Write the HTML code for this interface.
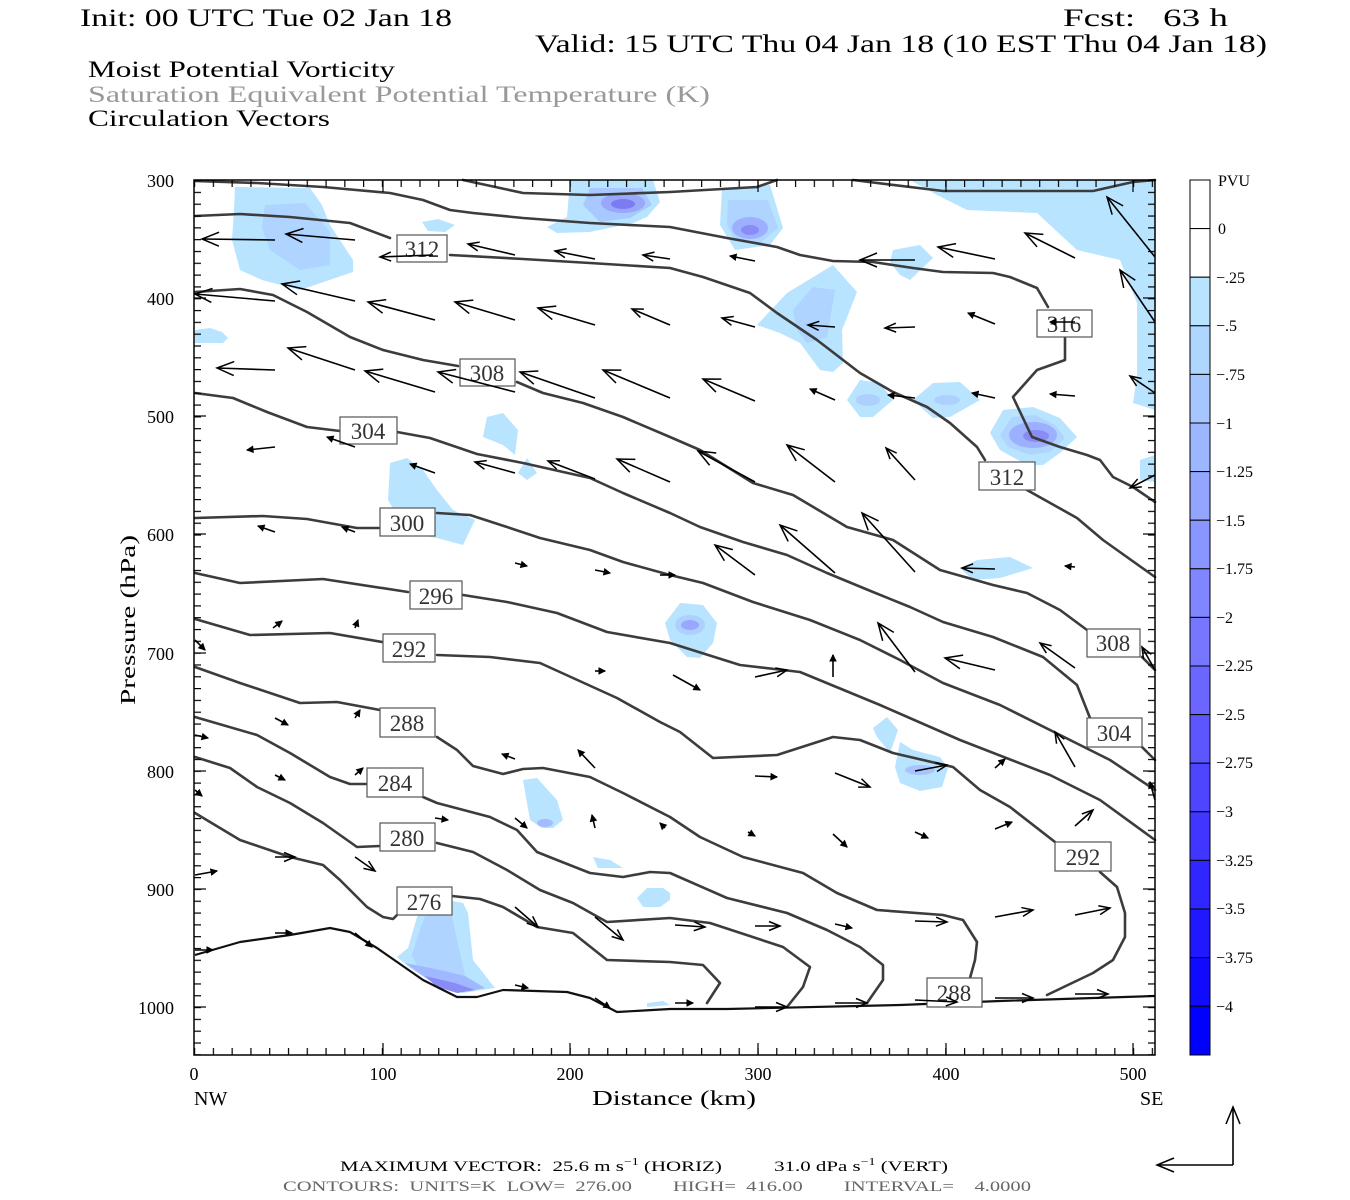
<!DOCTYPE html>
<html><head><meta charset="utf-8"><style>html,body{margin:0;padding:0;background:#fff}svg{display:block}text{font-family:"Liberation Serif",serif}</style></head><body>
<svg width="1350" height="1200" viewBox="0 0 1350 1200" xmlns="http://www.w3.org/2000/svg">
<defs>
<pattern id="px" x="194" y="0" width="18.78" height="1200" patternUnits="userSpaceOnUse"><rect x="0" y="0" width="1.2" height="1200" fill="#000"/></pattern>
<pattern id="py" x="0" y="180" width="1350" height="11.814" patternUnits="userSpaceOnUse"><rect x="0" y="0" width="1350" height="1.2" fill="#000"/></pattern>
<marker id="hL" markerUnits="userSpaceOnUse" viewBox="-20 -10 22 20" markerWidth="22" markerHeight="20" refX="0" refY="0" orient="auto"><path d="M-17,-7 L0,0 L-17,7" fill="none" stroke="#000" stroke-width="1.5"/></marker>
<marker id="hM" markerUnits="userSpaceOnUse" viewBox="-14 -7 16 14" markerWidth="16" markerHeight="14" refX="0" refY="0" orient="auto"><path d="M-11,-4.5 L0,0 L-11,4.5" fill="none" stroke="#000" stroke-width="1.5"/></marker>
<marker id="hS" markerUnits="userSpaceOnUse" viewBox="-8 -4 10 8" markerWidth="10" markerHeight="8" refX="0" refY="0" orient="auto"><path d="M-6,-3 L0,0 L-6,3 Z" fill="#000" stroke="#000" stroke-width="1"/></marker>
</defs>

<!-- titles -->
<text x="80" y="26" font-size="25" textLength="372" lengthAdjust="spacingAndGlyphs">Init: 00 UTC Tue 02 Jan 18</text>
<text x="1063" y="26" font-size="25" textLength="165" lengthAdjust="spacingAndGlyphs" xml:space="preserve">Fcst:   63 h</text>
<text x="535" y="52" font-size="25" textLength="732" lengthAdjust="spacingAndGlyphs">Valid: 15 UTC Thu 04 Jan 18 (10 EST Thu 04 Jan 18)</text>
<text x="88" y="77" font-size="23" textLength="307" lengthAdjust="spacingAndGlyphs">Moist Potential Vorticity</text>
<text x="88" y="102" font-size="23" fill="#999" textLength="622" lengthAdjust="spacingAndGlyphs">Saturation Equivalent Potential Temperature (K)</text>
<text x="88" y="126" font-size="23" textLength="242" lengthAdjust="spacingAndGlyphs">Circulation Vectors</text>

<!-- PV shading -->
<g stroke="none">
<polygon fill="#b8e4ff" points="235,187 310,188 322,205 330,225 353,260 353,272 300,290 262,280 240,270 232,240 234,210"/>
<polygon fill="#aed4ff" points="265,205 305,203 330,232 330,265 300,270 270,250 262,228"/>
<polygon fill="#b8e4ff" points="570,180 653,180 660,202 647,217 633,223 590,232 557,233 547,227 567,217"/>
<polygon fill="#a8c8ff" points="590,188 642,188 652,205 630,218 600,222 583,205"/>
<ellipse cx="623" cy="203" rx="22" ry="10" fill="#9aa8fc"/>
<ellipse cx="623" cy="204" rx="12" ry="5" fill="#7c7cf2"/>
<polygon fill="#b8e4ff" points="422,222 438,219 455,225 445,232 428,231"/>
<polygon fill="#b8e4ff" points="722,188 770,185 783,228 770,245 735,250 720,225"/>
<polygon fill="#aed4ff" points="728,200 768,200 778,228 760,243 735,240 727,225"/>
<ellipse cx="750" cy="228" rx="18" ry="11" fill="#9cb0ff"/>
<ellipse cx="750" cy="230" rx="9" ry="5" fill="#8a8cf6"/>
<polygon fill="#b8e4ff" points="910,180 1155,180 1155,410 1133,403 1137,377 1137,303 1120,260 1077,250 1037,213 967,210 937,195"/>
<polygon fill="#b8e4ff" points="1140,460 1155,455 1155,482 1140,480"/>
<polygon fill="#b8e4ff" points="757,325 787,293 833,265 857,292 842,330 843,363 833,372 820,370 800,343 780,333"/>
<polygon fill="#aed4ff" points="793,310 813,287 835,290 827,337 807,343 797,330"/>
<polygon fill="#b8e4ff" points="893,250 920,245 933,258 910,280 900,275 890,262"/>
<polygon fill="#b8e4ff" points="847,400 860,380 880,383 893,400 873,417 860,417"/>
<ellipse cx="868" cy="400" rx="12" ry="6" fill="#aed0ff"/>
<polygon fill="#b8e4ff" points="913,400 933,383 960,382 980,400 950,417 933,418"/>
<ellipse cx="947" cy="400" rx="13" ry="5" fill="#aed0ff"/>
<polygon fill="#b8e4ff" points="990,433 1003,410 1033,407 1060,418 1077,437 1060,453 1043,465 1027,465 1000,450"/>
<polygon fill="#aed4ff" points="1000,435 1012,417 1035,415 1055,425 1065,438 1050,452 1030,455 1008,447"/>
<ellipse cx="1033" cy="435" rx="24" ry="13" fill="#9cb0ff"/>
<ellipse cx="1036" cy="436" rx="13" ry="6" fill="#8a8cf6"/>
<polygon fill="#b8e4ff" points="960,568 977,560 1010,557 1033,568 1000,578 973,580"/>
<polygon fill="#b8e4ff" points="665,623 680,603 703,605 717,623 713,643 700,658 687,657 670,640"/>
<ellipse cx="690" cy="625" rx="15" ry="10" fill="#aed0ff"/>
<ellipse cx="690" cy="625" rx="9" ry="5" fill="#98a8fc"/>
<polygon fill="#b8e4ff" points="195,330 210,328 222,332 228,338 223,343 195,343"/>
<polygon fill="#b8e4ff" points="487,417 503,413 518,430 515,455 503,445 483,437"/>
<polygon fill="#b8e4ff" points="527,458 537,473 527,480 518,473"/>
<polygon fill="#b8e4ff" points="390,463 407,458 423,470 437,490 453,510 475,520 463,545 437,538 407,533 388,500"/>
<polygon fill="#b8e4ff" points="873,728 887,717 898,730 890,753 877,737"/>
<polygon fill="#b8e4ff" points="900,742 913,750 940,757 948,768 942,787 920,791 900,783 895,767"/>
<ellipse cx="920" cy="770" rx="15" ry="5" fill="#a8c4ff"/>
<polygon fill="#b8e4ff" points="523,780 537,778 557,800 563,820 553,828 542,828 530,820"/>
<ellipse cx="545" cy="823" rx="8" ry="4" fill="#a2bcff"/>
<polygon fill="#b8e4ff" points="593,857 610,860 623,868 598,868"/>
<polygon fill="#b8e4ff" points="637,898 647,888 663,888 670,893 670,900 660,907 643,907"/>
<polygon fill="#b8e4ff" points="397,957 408,948 417,917 430,902 447,900 463,903 468,913 473,960 495,988 463,993 437,985 410,968"/>
<polygon fill="#aed4ff" points="412,955 420,930 430,903 450,907 457,940 465,975 445,985 420,972"/>
<polygon fill="#a0b8ff" points="405,963 440,970 465,976 485,988 458,993 437,986"/>
<polygon fill="#8a8cf6" points="425,976 455,983 475,990 457,993 437,987"/>
<polygon fill="#b8e4ff" points="647,1003 663,1001 670,1005 647,1007"/>
</g>

<!-- contours -->
<g fill="none" stroke="#3c3c3c" stroke-width="2.6" stroke-linejoin="round" stroke-linecap="round">
<polyline points="463,180 523,193 590,195 670,192 757,187 777,180"/>
<polyline points="853,180 943,191 1093,191 1133,182 1155,180"/>
<polyline points="195,181 257,183 323,187 390,193 423,200 450,210 473,213 523,218 590,223 670,227 727,238 777,247 800,255 833,261 873,262 913,268 943,272 993,273 1010,277 1037,288 1048,307"/>
<polyline points="1065,338 1065,360 1037,370 1013,397 1032,437 1060,447 1087,455 1100,460 1113,477 1133,487 1155,502"/>
<polyline points="195,216 240,214 290,217 350,223 390,238"/>
<polyline points="450,255 523,259 590,263 670,268 703,277 750,293 777,313 817,340 860,373 893,392 927,407 950,423 977,447 985,460"/>
<polyline points="1027,490 1077,518 1103,540 1155,577"/>
<polyline points="195,292 240,289 273,295 307,312 350,337 383,350 423,360 458,366"/>
<polyline points="517,382 543,393 583,403 623,417 670,437 700,450 753,483 793,495 847,527 893,540 940,570 993,585 1027,593 1060,610 1087,630"/>
<polyline points="1142,657 1155,670"/>
<polyline points="195,393 233,398 267,412 307,427 340,431"/>
<polyline points="397,432 430,438 477,454 523,463 590,478 623,493 670,513 700,527 743,542 787,555 827,573 873,592 910,607 943,622 993,637 1043,657 1077,685 1090,718"/>
<polyline points="1142,747 1155,760"/>
<polyline points="195,518 263,516 307,519 357,528 380,528"/>
<polyline points="437,513 470,515 507,527 540,538 590,550 623,562 670,575 703,583 753,602 810,620 860,640 900,660 943,683 1000,705 1060,735 1110,760 1155,790"/>
<polyline points="195,573 240,583 323,579 408,592"/>
<polyline points="463,595 507,602 557,613 607,632 670,643 740,665 800,672 880,705 960,740 1050,775 1100,800 1155,840"/>
<polyline points="195,619 250,635 330,633 382,642"/>
<polyline points="437,655 490,657 540,663 573,678 617,698 660,722 680,732 713,758 777,755 833,737 860,740 893,753 953,767 980,790 1010,807 1055,842"/>
<polyline points="1100,872 1117,887 1125,913 1125,937 1113,960 1093,973 1047,995"/>
<polyline points="195,667 240,683 300,703 337,702 380,710"/>
<polyline points="437,737 457,750 473,766 503,774 523,769 543,768 590,777 623,793 670,817 700,837 743,857 803,873 837,893 877,910 943,915 963,920 977,942 975,960 970,978"/>
<polyline points="195,717 257,735 290,753 330,777 350,784 367,784"/>
<polyline points="423,797 437,803 490,817 517,830 537,852 557,860 590,873 623,877 650,872 670,873 727,898 787,913 827,930 860,947 883,965 883,980 867,1003"/>
<polyline points="195,757 230,768 257,787 290,803 323,823 357,847 380,846"/>
<polyline points="437,843 473,852 507,870 540,890 573,903 607,922 670,918 710,923 783,947 810,967 803,987 787,1007"/>
<polyline points="195,813 240,840 290,857 323,865 340,880 367,907 383,917 393,919 397,915"/>
<polyline points="452,896 480,899 503,907 537,927 573,933 607,960 670,962 703,965 720,983 707,1003"/>
</g>
<polyline fill="none" stroke="#111" stroke-width="2.2" stroke-linejoin="round" points="195,955 240,942 290,935 330,928 350,932 377,948 423,980 457,997 477,997 503,990 567,992 590,998 617,1012 670,1009 727,1009 900,1005 1000,1001 1155,996"/>

<!-- contour labels -->
<g fill="#fff" stroke="#555" stroke-width="1.2">
<rect x="397" y="235" width="50" height="27"/><rect x="460" y="359" width="55" height="27"/>
<rect x="340" y="417" width="57" height="27"/><rect x="380" y="508" width="55" height="28"/>
<rect x="410" y="581" width="52" height="28"/><rect x="383" y="634" width="52" height="28"/>
<rect x="380" y="708" width="55" height="29"/><rect x="367" y="768" width="56" height="29"/>
<rect x="380" y="823" width="55" height="28"/><rect x="397" y="887" width="55" height="28"/>
<rect x="1037" y="310" width="55" height="27"/><rect x="979" y="462" width="56" height="28"/>
<rect x="1087" y="629" width="53" height="28"/><rect x="1087" y="718" width="55" height="29"/>
<rect x="1055" y="842" width="56" height="29"/><rect x="927" y="978" width="55" height="29"/>
</g>
<g font-size="23" fill="#333" text-anchor="middle">
<text x="422" y="257">312</text><text x="487" y="381">308</text><text x="368" y="439">304</text>
<text x="407" y="531">300</text><text x="436" y="604">296</text><text x="409" y="657">292</text>
<text x="407" y="731">288</text><text x="395" y="791">284</text><text x="407" y="846">280</text>
<text x="424" y="910">276</text><text x="1064" y="332">316</text><text x="1007" y="485">312</text>
<text x="1113" y="651">308</text><text x="1114" y="741">304</text><text x="1083" y="865">292</text>
<text x="954" y="1001">288</text>
</g>

<!-- vectors -->
<g stroke="#000" stroke-width="1.6" fill="none">
<line x1="275" y1="240" x2="202" y2="239" marker-end="url(#hL)"/>
<line x1="355" y1="240" x2="286" y2="234" marker-end="url(#hL)"/>
<line x1="433" y1="255" x2="380" y2="257" marker-end="url(#hM)"/>
<line x1="515" y1="255" x2="468" y2="244" marker-end="url(#hM)"/>
<line x1="595" y1="259" x2="555" y2="251" marker-end="url(#hM)"/>
<line x1="670" y1="259" x2="643" y2="255" marker-end="url(#hM)"/>
<line x1="755" y1="261" x2="730" y2="256" marker-end="url(#hS)"/>
<line x1="915" y1="260" x2="860" y2="260" marker-end="url(#hL)"/>
<line x1="995" y1="259" x2="938" y2="247" marker-end="url(#hL)"/>
<line x1="1075" y1="258" x2="1025" y2="233" marker-end="url(#hL)"/>
<line x1="1155" y1="257" x2="1107" y2="197" marker-end="url(#hL)"/>
<line x1="275" y1="301" x2="195" y2="294" marker-end="url(#hL)"/>
<line x1="355" y1="301" x2="282" y2="284" marker-end="url(#hL)"/>
<line x1="435" y1="320" x2="368" y2="302" marker-end="url(#hL)"/>
<line x1="515" y1="320" x2="455" y2="302" marker-end="url(#hL)"/>
<line x1="595" y1="325" x2="538" y2="308" marker-end="url(#hL)"/>
<line x1="670" y1="325" x2="632" y2="309" marker-end="url(#hM)"/>
<line x1="755" y1="327" x2="722" y2="318" marker-end="url(#hM)"/>
<line x1="835" y1="327" x2="808" y2="325" marker-end="url(#hM)"/>
<line x1="915" y1="327" x2="885" y2="328" marker-end="url(#hM)"/>
<line x1="995" y1="324" x2="968" y2="313" marker-end="url(#hS)"/>
<line x1="1075" y1="322" x2="1050" y2="322" marker-end="url(#hS)"/>
<line x1="1155" y1="322" x2="1120" y2="270" marker-end="url(#hL)"/>
<line x1="275" y1="370" x2="217" y2="368" marker-end="url(#hL)"/>
<line x1="355" y1="370" x2="288" y2="348" marker-end="url(#hL)"/>
<line x1="435" y1="392" x2="365" y2="371" marker-end="url(#hL)"/>
<line x1="515" y1="392" x2="438" y2="372" marker-end="url(#hL)"/>
<line x1="595" y1="398" x2="520" y2="372" marker-end="url(#hL)"/>
<line x1="670" y1="398" x2="603" y2="370" marker-end="url(#hL)"/>
<line x1="755" y1="401" x2="703" y2="379" marker-end="url(#hL)"/>
<line x1="835" y1="400" x2="810" y2="389" marker-end="url(#hS)"/>
<line x1="915" y1="398" x2="888" y2="395" marker-end="url(#hS)"/>
<line x1="995" y1="398" x2="972" y2="393" marker-end="url(#hS)"/>
<line x1="1075" y1="396" x2="1050" y2="394" marker-end="url(#hS)"/>
<line x1="1155" y1="393" x2="1130" y2="376" marker-end="url(#hM)"/>
<line x1="275" y1="447" x2="247" y2="450" marker-end="url(#hS)"/>
<line x1="355" y1="447" x2="327" y2="437" marker-end="url(#hS)"/>
<line x1="435" y1="473" x2="410" y2="464" marker-end="url(#hS)"/>
<line x1="515" y1="473" x2="475" y2="462" marker-end="url(#hM)"/>
<line x1="595" y1="479" x2="548" y2="461" marker-end="url(#hM)"/>
<line x1="670" y1="482" x2="617" y2="459" marker-end="url(#hL)"/>
<line x1="755" y1="482" x2="698" y2="451" marker-end="url(#hL)"/>
<line x1="835" y1="482" x2="787" y2="445" marker-end="url(#hL)"/>
<line x1="915" y1="480" x2="886" y2="448" marker-end="url(#hM)"/>
<line x1="1155" y1="475" x2="1130" y2="488" marker-end="url(#hM)"/>
<line x1="275" y1="532" x2="258" y2="526" marker-end="url(#hS)"/>
<line x1="355" y1="532" x2="342" y2="527" marker-end="url(#hS)"/>
<line x1="515" y1="563" x2="527" y2="566" marker-end="url(#hS)"/>
<line x1="595" y1="570" x2="610" y2="573" marker-end="url(#hS)"/>
<line x1="660" y1="575" x2="675" y2="575" marker-end="url(#hS)"/>
<line x1="755" y1="575" x2="715" y2="545" marker-end="url(#hL)"/>
<line x1="835" y1="573" x2="780" y2="525" marker-end="url(#hL)"/>
<line x1="915" y1="572" x2="862" y2="513" marker-end="url(#hL)"/>
<line x1="995" y1="569" x2="962" y2="568" marker-end="url(#hM)"/>
<line x1="1075" y1="567" x2="1065" y2="566" marker-end="url(#hS)"/>
<line x1="273" y1="628" x2="282" y2="621" marker-end="url(#hS)"/>
<line x1="355" y1="628" x2="358" y2="620" marker-end="url(#hS)"/>
<line x1="195" y1="640" x2="205" y2="650" marker-end="url(#hS)"/>
<line x1="595" y1="671" x2="605" y2="671" marker-end="url(#hS)"/>
<line x1="673" y1="675" x2="700" y2="690" marker-end="url(#hS)"/>
<line x1="755" y1="677" x2="787" y2="670" marker-end="url(#hM)"/>
<line x1="833" y1="677" x2="833" y2="655" marker-end="url(#hS)"/>
<line x1="915" y1="672" x2="878" y2="623" marker-end="url(#hL)"/>
<line x1="995" y1="670" x2="945" y2="658" marker-end="url(#hL)"/>
<line x1="1075" y1="668" x2="1040" y2="643" marker-end="url(#hM)"/>
<line x1="1155" y1="670" x2="1142" y2="647" marker-end="url(#hM)"/>
<line x1="275" y1="718" x2="288" y2="725" marker-end="url(#hS)"/>
<line x1="355" y1="718" x2="360" y2="710" marker-end="url(#hS)"/>
<line x1="195" y1="735" x2="208" y2="738" marker-end="url(#hS)"/>
<line x1="515" y1="759" x2="502" y2="754" marker-end="url(#hS)"/>
<line x1="595" y1="768" x2="578" y2="750" marker-end="url(#hS)"/>
<line x1="195" y1="790" x2="202" y2="796" marker-end="url(#hS)"/>
<line x1="755" y1="776" x2="777" y2="777" marker-end="url(#hS)"/>
<line x1="835" y1="773" x2="870" y2="787" marker-end="url(#hM)"/>
<line x1="915" y1="771" x2="947" y2="765" marker-end="url(#hM)"/>
<line x1="995" y1="768" x2="1005" y2="759" marker-end="url(#hS)"/>
<line x1="1075" y1="767" x2="1055" y2="732" marker-end="url(#hM)"/>
<line x1="1155" y1="800" x2="1150" y2="782" marker-end="url(#hS)"/>
<line x1="275" y1="775" x2="285" y2="780" marker-end="url(#hS)"/>
<line x1="355" y1="775" x2="363" y2="768" marker-end="url(#hS)"/>
<line x1="435" y1="818" x2="448" y2="820" marker-end="url(#hS)"/>
<line x1="515" y1="818" x2="527" y2="828" marker-end="url(#hS)"/>
<line x1="595" y1="828" x2="592" y2="815" marker-end="url(#hS)"/>
<line x1="665" y1="828" x2="660" y2="823" marker-end="url(#hS)"/>
<line x1="748" y1="832" x2="755" y2="836" marker-end="url(#hS)"/>
<line x1="833" y1="834" x2="847" y2="847" marker-end="url(#hS)"/>
<line x1="915" y1="832" x2="928" y2="838" marker-end="url(#hS)"/>
<line x1="995" y1="829" x2="1012" y2="822" marker-end="url(#hS)"/>
<line x1="1075" y1="826" x2="1093" y2="810" marker-end="url(#hM)"/>
<line x1="195" y1="875" x2="217" y2="871" marker-end="url(#hS)"/>
<line x1="275" y1="857" x2="295" y2="857" marker-end="url(#hM)"/>
<line x1="355" y1="857" x2="375" y2="871" marker-end="url(#hM)"/>
<line x1="515" y1="907" x2="538" y2="927" marker-end="url(#hM)"/>
<line x1="595" y1="917" x2="623" y2="940" marker-end="url(#hM)"/>
<line x1="675" y1="925" x2="705" y2="927" marker-end="url(#hM)"/>
<line x1="755" y1="926" x2="780" y2="926" marker-end="url(#hM)"/>
<line x1="835" y1="924" x2="852" y2="928" marker-end="url(#hS)"/>
<line x1="915" y1="921" x2="947" y2="922" marker-end="url(#hM)"/>
<line x1="995" y1="917" x2="1033" y2="910" marker-end="url(#hM)"/>
<line x1="1075" y1="915" x2="1110" y2="908" marker-end="url(#hM)"/>
<line x1="195" y1="950" x2="213" y2="950" marker-end="url(#hS)"/>
<line x1="275" y1="933" x2="292" y2="933" marker-end="url(#hS)"/>
<line x1="355" y1="933" x2="372" y2="947" marker-end="url(#hS)"/>
<line x1="515" y1="985" x2="528" y2="988" marker-end="url(#hS)"/>
<line x1="595" y1="998" x2="610" y2="1008" marker-end="url(#hS)"/>
<line x1="675" y1="1003" x2="693" y2="1003" marker-end="url(#hS)"/>
<line x1="755" y1="1007" x2="787" y2="1007" marker-end="url(#hM)"/>
<line x1="835" y1="1003" x2="867" y2="1003" marker-end="url(#hM)"/>
<line x1="915" y1="1000" x2="957" y2="1002" marker-end="url(#hM)"/>
<line x1="995" y1="998" x2="1033" y2="998" marker-end="url(#hM)"/>
<line x1="1075" y1="994" x2="1108" y2="994" marker-end="url(#hM)"/>
</g>

<!-- frame and ticks -->
<rect x="194" y="1048" width="961" height="7" fill="url(#px)"/>
<rect x="194" y="180" width="961" height="7" fill="url(#px)"/>
<rect x="194" y="180" width="7" height="875" fill="url(#py)"/>
<rect x="1148" y="180" width="7" height="875" fill="url(#py)"/>
<g stroke="#000" stroke-width="1.2">
<line x1="383" y1="1043" x2="383" y2="1055"/><line x1="570" y1="1043" x2="570" y2="1055"/><line x1="758" y1="1043" x2="758" y2="1055"/><line x1="946" y1="1043" x2="946" y2="1055"/><line x1="1133" y1="1043" x2="1133" y2="1055"/>
<line x1="383" y1="180" x2="383" y2="192"/><line x1="570" y1="180" x2="570" y2="192"/><line x1="758" y1="180" x2="758" y2="192"/><line x1="946" y1="180" x2="946" y2="192"/><line x1="1133" y1="180" x2="1133" y2="192"/>
<line x1="194" y1="298" x2="206" y2="298"/><line x1="194" y1="416" x2="206" y2="416"/><line x1="194" y1="534" x2="206" y2="534"/><line x1="194" y1="653" x2="206" y2="653"/><line x1="194" y1="771" x2="206" y2="771"/><line x1="194" y1="889" x2="206" y2="889"/><line x1="194" y1="1007" x2="206" y2="1007"/>
<line x1="1143" y1="298" x2="1155" y2="298"/><line x1="1143" y1="416" x2="1155" y2="416"/><line x1="1143" y1="534" x2="1155" y2="534"/><line x1="1143" y1="653" x2="1155" y2="653"/><line x1="1143" y1="771" x2="1155" y2="771"/><line x1="1143" y1="889" x2="1155" y2="889"/><line x1="1143" y1="1007" x2="1155" y2="1007"/>
</g>
<rect x="194" y="180" width="961" height="875" fill="none" stroke="#000" stroke-width="1.5"/>

<!-- axis labels -->
<g font-size="18" text-anchor="end">
<text x="174" y="187">300</text><text x="174" y="305">400</text><text x="174" y="423">500</text><text x="174" y="541">600</text><text x="174" y="660">700</text><text x="174" y="778">800</text><text x="174" y="896">900</text><text x="174" y="1014">1000</text>
</g>
<g font-size="18" text-anchor="middle">
<text x="194" y="1080">0</text><text x="383" y="1080">100</text><text x="570" y="1080">200</text><text x="758" y="1080">300</text><text x="946" y="1080">400</text><text x="1133" y="1080">500</text>
</g>
<text x="194" y="1105" font-size="20">NW</text>
<text x="1140" y="1105" font-size="20">SE</text>
<text x="592" y="1105" font-size="21" textLength="164" lengthAdjust="spacingAndGlyphs">Distance (km)</text>
<text transform="translate(135,705) rotate(-90)" font-size="21" textLength="170" lengthAdjust="spacingAndGlyphs">Pressure (hPa)</text>

<!-- colorbar -->
<g stroke="#000" stroke-width="1">
<rect x="1190" y="180" width="20" height="48.6" fill="#fff"/>
<rect x="1190" y="228.6" width="20" height="48.6" fill="#fff"/>
<rect x="1190" y="277.2" width="20" height="48.6" fill="#b8e4ff"/>
<rect x="1190" y="325.8" width="20" height="48.6" fill="#aed6ff"/>
<rect x="1190" y="374.4" width="20" height="48.6" fill="#a6c6ff"/>
<rect x="1190" y="423" width="20" height="48.6" fill="#9cb6ff"/>
<rect x="1190" y="471.6" width="20" height="48.6" fill="#93a6ff"/>
<rect x="1190" y="520.2" width="20" height="48.6" fill="#8996ff"/>
<rect x="1190" y="568.8" width="20" height="48.6" fill="#8086ff"/>
<rect x="1190" y="617.4" width="20" height="48.6" fill="#7676ff"/>
<rect x="1190" y="666" width="20" height="48.6" fill="#6a66ff"/>
<rect x="1190" y="714.6" width="20" height="48.6" fill="#5c56ff"/>
<rect x="1190" y="763.2" width="20" height="48.6" fill="#4e46ff"/>
<rect x="1190" y="811.8" width="20" height="48.6" fill="#4036ff"/>
<rect x="1190" y="860.4" width="20" height="48.6" fill="#3026ff"/>
<rect x="1190" y="909" width="20" height="48.6" fill="#2018ff"/>
<rect x="1190" y="957.6" width="20" height="48.6" fill="#100aff"/>
<rect x="1190" y="1006.2" width="20" height="48.8" fill="#0000ff"/>
</g>
<g font-size="16">
<text x="1218" y="186">PVU</text>
<text x="1218" y="234">0</text><text x="1216" y="283">−.25</text><text x="1216" y="331">−.5</text><text x="1216" y="380">−.75</text><text x="1216" y="429">−1</text><text x="1216" y="477">−1.25</text><text x="1216" y="526">−1.5</text><text x="1216" y="574">−1.75</text><text x="1216" y="623">−2</text><text x="1216" y="671">−2.25</text><text x="1216" y="720">−2.5</text><text x="1216" y="768">−2.75</text><text x="1216" y="817">−3</text><text x="1216" y="866">−3.25</text><text x="1216" y="914">−3.5</text><text x="1216" y="963">−3.75</text><text x="1216" y="1012">−4</text>
</g>

<!-- footer -->
<text x="340" y="1171" font-size="15" textLength="608" lengthAdjust="spacingAndGlyphs" xml:space="preserve">MAXIMUM VECTOR:  25.6 m s<tspan dy="-6" font-size="10">−1</tspan><tspan dy="6"> (HORIZ)          31.0 dPa s</tspan><tspan dy="-6" font-size="10">−1</tspan><tspan dy="6"> (VERT)</tspan></text>
<text x="283" y="1191" font-size="15" fill="#666" textLength="748" lengthAdjust="spacingAndGlyphs" xml:space="preserve">CONTOURS:  UNITS=K  LOW=  276.00        HIGH=  416.00        INTERVAL=    4.0000</text>
<g stroke="#000" stroke-width="1.6" fill="none">
<line x1="1233" y1="1165" x2="1157" y2="1165" marker-end="url(#hL)"/>
<line x1="1233" y1="1165" x2="1233" y2="1107" marker-end="url(#hL)"/>
</g>
</svg>
</body></html>
